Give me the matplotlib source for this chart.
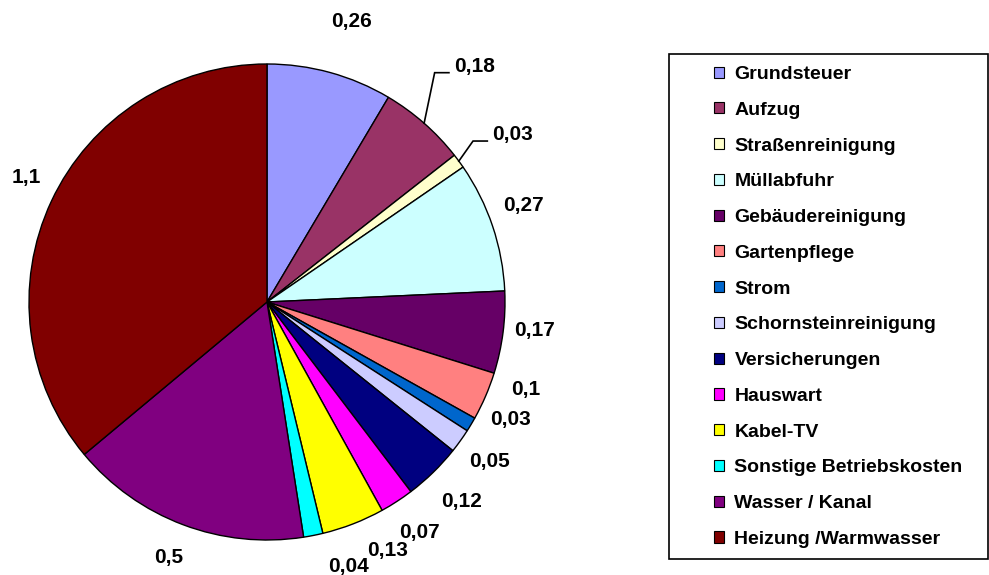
import matplotlib
matplotlib.use('Agg')
import matplotlib.pyplot as plt
import numpy as np
from matplotlib.patches import Patch, Rectangle

plt.rcParams['font.family'] = ['Liberation Sans', 'DejaVu Sans']

categories = ['Grundsteuer', 'Aufzug', 'Straßenreinigung', 'Müllabfuhr',
              'Gebäudereinigung', 'Gartenpflege', 'Strom', 'Schornsteinreinigung',
              'Versicherungen', 'Hauswart', 'Kabel-TV', 'Sonstige Betriebskosten',
              'Wasser / Kanal', 'Heizung /Warmwasser']
values = [0.26, 0.18, 0.03, 0.27, 0.17, 0.1, 0.03, 0.05, 0.12, 0.07, 0.13, 0.04, 0.5, 1.1]
value_labels = ['0,26', '0,18', '0,03', '0,27', '0,17', '0,1', '0,03', '0,05',
                '0,12', '0,07', '0,13', '0,04', '0,5', '1,1']
colors = ['#9999FF', '#993366', '#FFFFCC', '#CCFFFF', '#660066', '#FF8080',
          '#0066CC', '#CCCCFF', '#000080', '#FF00FF', '#FFFF00', '#00FFFF',
          '#800080', '#800000']

# label placement (distance in radii, angular shift in degrees)
label_dist = [1.23, 1.32, 1.25, 1.15, 1.13, 1.15, 1.135, 1.15, 1.17, 1.16, 1.16, 1.165, 1.15, 1.14]
label_shift = [-1.5, 0, -2, 2, 1.4, 4.6, 5.1, 0, 0, 0.5, 4.6, 5.9, -0.3, -2.3]
leader_idx = [1, 2]

W, H = 989, 575
CX, CY, R = 267, 302, 238

fig = plt.figure(figsize=(W / 100, H / 100), dpi=100)
ax = fig.add_axes([0, 0, 1, 1])
wedges, _ = ax.pie(values, colors=colors, startangle=90, counterclock=False,
                   radius=1, wedgeprops=dict(edgecolor='black', linewidth=1.0))
ax.set_xlim(-CX / R, (W - CX) / R)
ax.set_ylim(-(H - CY) / R, CY / R)
ax.set_aspect('equal')
ax.axis('off')

for i, (w, lab, d, s) in enumerate(zip(wedges, value_labels, label_dist, label_shift)):
    mid = (w.theta1 + w.theta2) / 2
    a = np.deg2rad(mid + s)
    x, y = d * np.cos(a), d * np.sin(a)
    ax.text(x, y, lab, ha='center', va='center', fontsize=15, fontweight='bold')
    if i in leader_idx:
        am = np.deg2rad(mid)
        ex, ey = np.cos(am), np.sin(am)
        endx = x - 0.107
        ly = y - 0.028
        elbx = endx - 0.06
        ax.plot([ex, elbx, endx], [ey, ly, ly], color='black', lw=1.2,
                solid_joinstyle='miter')

handles = [Patch(facecolor=c, edgecolor='black', linewidth=0.8) for c in colors]
leg = fig.legend(handles, categories, loc='upper left',
                 bbox_to_anchor=(714 / W, 1 - 66 / H), frameon=False,
                 prop=dict(family='Liberation Sans', weight='bold', size=14),
                 handlelength=0.5, handleheight=0.5, handletextpad=0.55,
                 labelspacing=0.965, borderpad=0, borderaxespad=0)

frame = Rectangle((669 / W, 1 - 559 / H), (988 - 669) / W, (559 - 54) / H,
                  transform=fig.transFigure, fill=False, edgecolor='black', lw=1.2)
fig.add_artist(frame)

fig.savefig('out.png', dpi=100)
